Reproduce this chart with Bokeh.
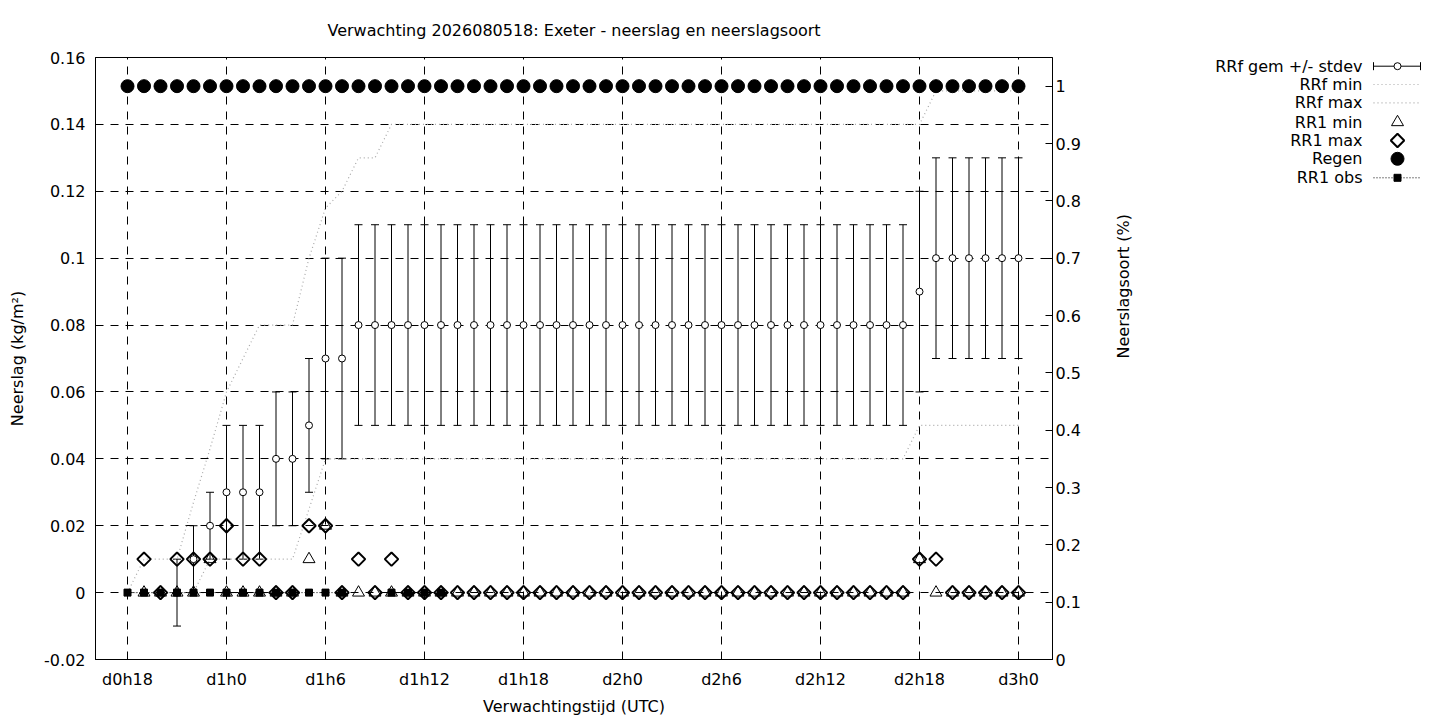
import numpy as np
from bokeh.plotting import figure
from bokeh.models import Range1d, LinearAxis, FixedTicker
from bokeh.layouts import row
from bokeh.embed import file_html
from bokeh.resources import INLINE
from bokeh.core.properties import value

nan = float("nan")

# ---------------- data ----------------
hours = [18, 19, 20, 21, 22, 23, 24, 25, 26, 27, 28, 29, 30, 31, 32, 33, 34, 35, 36,
         37, 38, 39, 40, 41, 42, 43, 44, 45, 46, 47, 48, 49, 50, 51, 52, 53, 54, 55,
         56, 57, 58, 59, 60, 61, 62, 63, 64, 65, 66, 67, 68, 69, 70, 71, 72]

rrf_mean = [nan, nan, nan, 0.0, 0.01, 0.02, 0.03, 0.03, 0.03, 0.04, 0.04, 0.05, 0.07, 0.07,
            0.08, 0.08, 0.08, 0.08, 0.08, 0.08, 0.08, 0.08, 0.08, 0.08, 0.08, 0.08, 0.08,
            0.08, 0.08, 0.08, 0.08, 0.08, 0.08, 0.08, 0.08, 0.08, 0.08, 0.08, 0.08, 0.08,
            0.08, 0.08, 0.08, 0.08, 0.08, 0.08, 0.08, 0.08,
            0.09, 0.10, 0.10, 0.10, 0.10, 0.10, 0.10]
rrf_std = [nan, nan, nan, 0.01, 0.01, 0.01, 0.02, 0.02, 0.02, 0.02, 0.02, 0.02, 0.03, 0.03,
           0.03, 0.03, 0.03, 0.03, 0.03, 0.03, 0.03, 0.03, 0.03, 0.03, 0.03, 0.03, 0.03,
           0.03, 0.03, 0.03, 0.03, 0.03, 0.03, 0.03, 0.03, 0.03, 0.03, 0.03, 0.03, 0.03,
           0.03, 0.03, 0.03, 0.03, 0.03, 0.03, 0.03, 0.03,
           0.03, 0.03, 0.03, 0.03, 0.03, 0.03, 0.03]
rrf_min = [0.0, 0.0, 0.0, 0.0, 0.0, 0.01, 0.01, 0.01, 0.01, 0.01, 0.01, 0.025, 0.04, 0.04,
           0.04, 0.04, 0.04, 0.04, 0.04, 0.04, 0.04, 0.04, 0.04, 0.04, 0.04, 0.04, 0.04,
           0.04, 0.04, 0.04, 0.04, 0.04, 0.04, 0.04, 0.04, 0.04, 0.04, 0.04, 0.04, 0.04,
           0.04, 0.04, 0.04, 0.04, 0.04, 0.04, 0.04, 0.04,
           0.05, 0.05, 0.05, 0.05, 0.05, 0.05, 0.05]
rrf_max = [0.0, 0.01, 0.01, 0.01, 0.027, 0.043, 0.06, 0.07, 0.08, 0.08, 0.08, 0.10, 0.115,
           0.12, 0.13, 0.13, 0.14, 0.14, 0.14, 0.14, 0.14, 0.14, 0.14, 0.14, 0.14, 0.14,
           0.14, 0.14, 0.14, 0.14, 0.14, 0.14, 0.14, 0.14, 0.14, 0.14, 0.14, 0.14, 0.14,
           0.14, 0.14, 0.14, 0.14, 0.14, 0.14, 0.14, 0.14, 0.14,
           0.14, 0.15, 0.15, 0.15, 0.15, 0.15, 0.15]
rr1_min = [nan, 0.0, 0.0, 0.0, 0.0, 0.01, 0.0, 0.0, 0.0, 0.0, 0.0, 0.01, 0.02, 0.0,
           0.0, 0.0, 0.0, 0.0, 0.0, 0.0, 0.0, 0.0, 0.0, 0.0, 0.0, 0.0, 0.0,
           0.0, 0.0, 0.0, 0.0, 0.0, 0.0, 0.0, 0.0, 0.0, 0.0, 0.0, 0.0, 0.0,
           0.0, 0.0, 0.0, 0.0, 0.0, 0.0, 0.0, 0.0,
           0.01, 0.0, 0.0, 0.0, 0.0, 0.0, 0.0]
rr1_max = [nan, 0.01, 0.0, 0.01, 0.01, 0.01, 0.02, 0.01, 0.01, 0.0, 0.0, 0.02, 0.02, 0.0,
           0.01, 0.0, 0.01, 0.0, 0.0, 0.0, 0.0, 0.0, 0.0, 0.0, 0.0, 0.0, 0.0,
           0.0, 0.0, 0.0, 0.0, 0.0, 0.0, 0.0, 0.0, 0.0, 0.0, 0.0, 0.0, 0.0,
           0.0, 0.0, 0.0, 0.0, 0.0, 0.0, 0.0, 0.0,
           0.01, 0.01, 0.0, 0.0, 0.0, 0.0, 0.0]
regen = [1.0] * 55
rr1_obs = [0.0, 0.0, 0.0, 0.0, 0.0, 0.0, 0.0, 0.0, 0.0, 0.0, 0.0, 0.0, 0.0, 0.0,
           nan, nan, 0.0, 0.0, 0.0, 0.0, nan, nan, nan, nan, nan, nan, nan,
           nan, nan, nan, nan, nan, nan, nan, nan, nan, nan, nan, nan, nan,
           nan, nan, nan, nan, nan, nan, nan, nan,
           nan, nan, nan, nan, nan, nan, nan]

x_ticks = [18, 24, 30, 36, 42, 48, 54, 60, 66, 72]
x_tick_labels = ["d0h18", "d1h0", "d1h6", "d1h12", "d1h18", "d2h0", "d2h6", "d2h12",
                 "d2h18", "d3h0"]
y_ticks = [-0.02, 0.0, 0.02, 0.04, 0.06, 0.08, 0.1, 0.12, 0.14, 0.16]
y_tick_labels = ["-0.02", "0", "0.02", "0.04", "0.06", "0.08", "0.1", "0.12", "0.14", "0.16"]
y2_ticks = [0.0, 0.1, 0.2, 0.3, 0.4, 0.5, 0.6, 0.7, 0.8, 0.9, 1.0]
y2_tick_labels = ["0", "0.1", "0.2", "0.3", "0.4", "0.5", "0.6", "0.7", "0.8", "0.9", "1"]

legend_labels = ["RRf gem +/- stdev", "RRf min", "RRf max", "RR1 min", "RR1 max", "Regen",
                 "RR1 obs"]

title_text = "Verwachting 2026080518: Exeter - neerslag en neerslagsoort"

# ---------------- style ----------------
FONT = "DejaVu Sans"
FS = "16px"
GRAY = "#a8a8a8"
GRID_DASH = "8 7"

mean = np.array(rrf_mean)
std = np.array(rrf_std)
lower = mean - std
upper = mean + std

p = figure(width=1146, height=718, x_range=Range1d(16.06, 74.06),
           y_range=Range1d(-0.02, 0.16), output_backend="svg", toolbar_location=None,
           min_border_left=95, min_border_right=94, min_border_top=57, min_border_bottom=59)
p.extra_y_ranges = {"y2": Range1d(0, 1.05)}

p.title.text = title_text
p.title.align = "center"
p.title.text_font = FONT
p.title.text_font_size = FS
p.title.text_font_style = "normal"
p.title.text_color = "black"
p.title.standoff = 36

p.outline_line_color = "black"
p.outline_line_width = 1
p.background_fill_color = "white"
p.border_fill_color = "white"

# grid
p.xgrid.ticker = FixedTicker(ticks=x_ticks)
p.ygrid.ticker = FixedTicker(ticks=y_ticks)
for g in (p.xgrid, p.ygrid):
    g.grid_line_color = "black"
    g.grid_line_dash = GRID_DASH
    g.grid_line_width = 1

# axes
xa = p.xaxis[0]
xa.ticker = FixedTicker(ticks=x_ticks)
xa.major_label_overrides = {t: l for t, l in zip(x_ticks, x_tick_labels)}
xa.axis_label = "Verwachtingstijd (UTC)"
xa.major_label_standoff = 10
xa.axis_label_standoff = 5

ya = p.yaxis[0]
ya.ticker = FixedTicker(ticks=y_ticks)
ya.major_label_overrides = {t: l for t, l in zip(y_ticks, y_tick_labels)}
ya.axis_label = "Neerslag (kg/m²)"
ya.major_label_standoff = 10
ya.axis_label_standoff = 14

ya2 = LinearAxis(y_range_name="y2", ticker=FixedTicker(ticks=y2_ticks))
ya2.major_label_overrides = {t: l for t, l in zip(y2_ticks, y2_tick_labels)}
ya2.axis_label = "Neerslagsoort (%)"
ya2.major_label_standoff = 3
ya2.axis_label_standoff = 40
try:
    ya2.axis_label_orientation = np.pi / 2
except Exception:
    pass
p.add_layout(ya2, "right")

for ax in (xa, ya, ya2):
    ax.axis_line_color = "black"
    ax.major_tick_line_color = "black"
    ax.major_tick_in = 7
    ax.major_tick_out = 0
    ax.minor_tick_line_color = None
    ax.major_label_text_font = FONT
    ax.major_label_text_font_size = FS
    ax.major_label_text_color = "black"
    ax.axis_label_text_font = FONT
    ax.axis_label_text_font_size = FS
    ax.axis_label_text_font_style = "normal"
    ax.axis_label_text_color = "black"

# RRf gem +/- stdev
p.segment(x0=hours, y0=lower, x1=hours, y1=upper, line_color="black", line_width=1)
p.scatter(hours, lower, marker="dash", size=8, line_color="black", line_width=1)
p.scatter(hours, upper, marker="dash", size=8, line_color="black", line_width=1)
p.scatter(hours, rrf_mean, marker="circle", size=7, fill_color="white", line_color="black",
          line_width=1)

# RRf min / max
p.line(hours, rrf_min, line_color=GRAY, line_dash="1 3", line_width=1.2)
p.line(hours, rrf_max, line_color=GRAY, line_dash="1 3", line_width=1.2)

# RR1 min / max
p.scatter(hours, rr1_min, marker="triangle", size=12, fill_color=None, line_color="black",
          line_width=1)
p.scatter(hours, rr1_max, marker="square", angle=np.pi / 4, size=9.5, fill_color=None,
          line_color="black", line_width=2)

# Regen
p.scatter(hours, regen, y_range_name="y2", marker="circle", size=13, fill_color="black",
          line_color="black")

# RR1 obs
p.line(hours, rr1_obs, line_color="black", line_dash="1 2", line_width=1)
p.scatter(hours, rr1_obs, marker="square", size=7, fill_color="black", line_color="black")

# ---------------- legend panel ----------------
# frame of this panel is aligned with the main frame (page y 57..659)
lg = figure(width=286, height=718, x_range=Range1d(1146, 1432), y_range=Range1d(659, 57),
            output_backend="svg", toolbar_location=None, x_axis_type=None, y_axis_type=None,
            min_border=0)
lg.grid.visible = False
lg.outline_line_color = None
lg.border_fill_color = "white"

rows_y = [65.7, 84.0, 102.3, 121.7, 140.0, 158.3, 177.3]
tx, s0, s1, sc = 1362, 1373, 1420, 1397

lg.text(x=[tx] * len(legend_labels), y=rows_y, text=legend_labels, text_align="right",
        text_baseline="middle", text_font=value(FONT), text_font_size=FS, text_color="black")

r = rows_y
lg.segment(x0=[s0], y0=[r[0]], x1=[s1], y1=[r[0]], line_color="black", line_width=1)
lg.scatter([s0, s1], [r[0], r[0]], marker="dash", angle=np.pi / 2, size=8, line_color="black")
lg.scatter([sc], [r[0]], marker="circle", size=7, fill_color="white", line_color="black")
lg.segment(x0=[s0, s0], y0=[r[1], r[2]], x1=[s1, s1], y1=[r[1], r[2]], line_color=GRAY,
           line_dash="1 3", line_width=1.2)
lg.scatter([sc], [r[3]], marker="triangle", size=12, fill_color=None, line_color="black")
lg.scatter([sc], [r[4]], marker="square", angle=np.pi / 4, size=9.5, fill_color=None,
           line_color="black", line_width=2)
lg.scatter([sc], [r[5]], marker="circle", size=13, fill_color="black", line_color="black")
lg.segment(x0=[s0], y0=[r[6]], x1=[s1], y1=[r[6]], line_color="black", line_dash="1 2")
lg.scatter([sc], [r[6]], marker="square", size=7, fill_color="black", line_color="black")

layout = row(p, lg)
open("out.html", "w").write(file_html(layout, INLINE))
